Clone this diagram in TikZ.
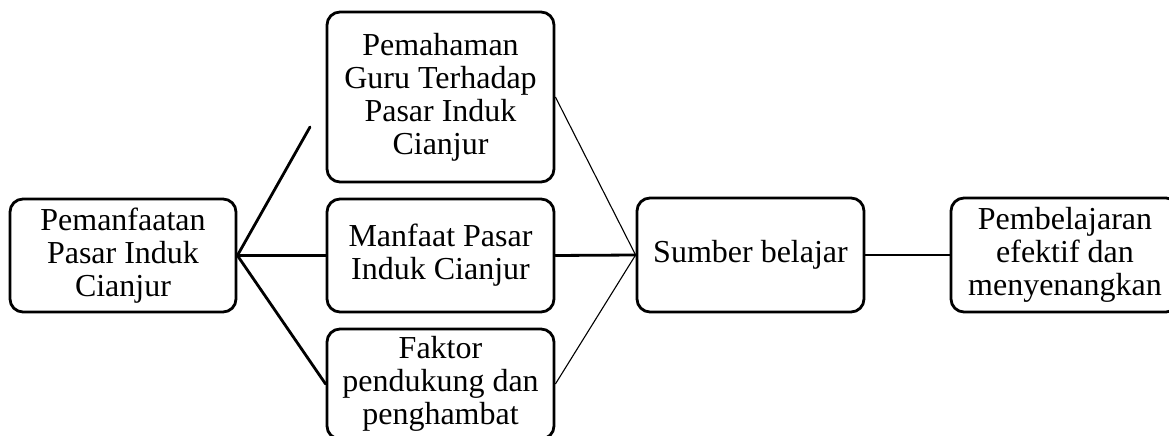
\documentclass[tikz,border=0pt]{standalone}
\usepackage{fontspec}
\setmainfont{Liberation Serif}
\begin{document}
\begin{tikzpicture}[x=1pt,y=1pt,
  box/.style={draw, line width=2.8pt, rounded corners=13pt, minimum width=227pt,
    align=center, inner sep=0pt, font=\fontsize{32}{33}\selectfont},
  thickline/.style={line width=2.8pt, line cap=round},
  thinline/.style={line width=1.1pt}]
\useasboundingbox (0,0) rectangle (1169,436);
\clip (0,0) rectangle (1169,436);
\node[box, minimum width=226pt, minimum height=113pt] (L) at (123,180.5) {Pemanfaatan\\Pasar Induk\\Cianjur};
\node[box, minimum height=170pt] (T) at (440.5,339) {Pemahaman\\Guru Terhadap\\Pasar Induk\\Cianjur};
\node[box, minimum height=113pt] (M) at (440.5,180.5) {Manfaat Pasar\\Induk Cianjur};
\node[box, minimum height=110pt] (B) at (440.5,52) {Faktor\\pendukung dan\\penghambat};
\node[box, minimum height=114pt] (S) at (750.5,181) {Sumber belajar};
\node[box, minimum width=228pt, minimum height=114pt] (R) at (1065,181) {Pembelajaran\\efektif dan\\menyenangkan};
\coordinate (Tfree) at (310,309);
\draw[thickline] (L.east) -- (Tfree);
\draw[thickline] (L.east) -- (M.west);
\draw[thickline] (L.east) -- (B.west);
\draw[thinline] (T.east) -- (S.west);
\draw[thickline] (M.east) -- (S.west);
\draw[thinline] (B.east) -- (S.west);
\draw[thickline] (S.east) -- (R.west);
\end{tikzpicture}
\end{document}
